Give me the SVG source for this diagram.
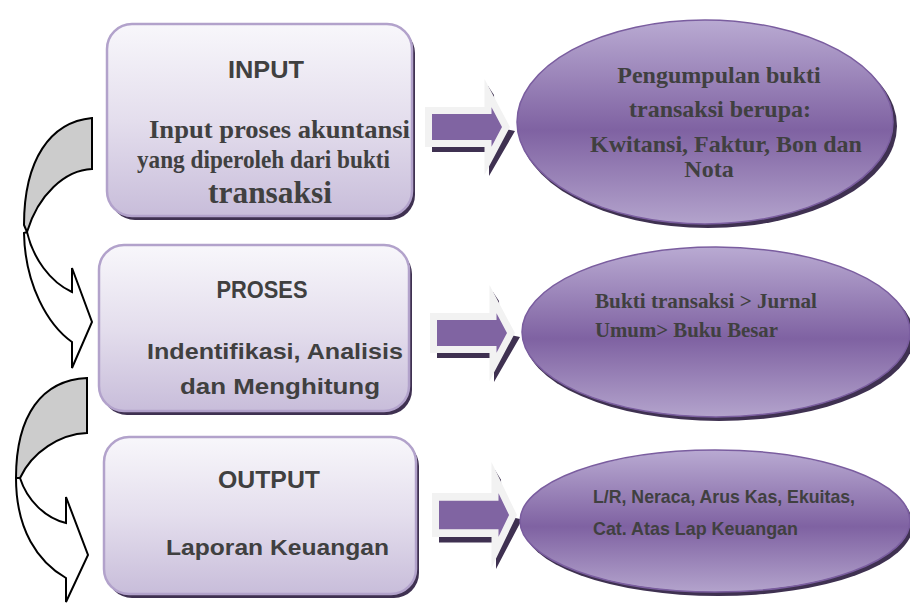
<svg xmlns="http://www.w3.org/2000/svg" width="910" height="604" viewBox="0 0 910 604">
<defs>
<linearGradient id="boxGrad" x1="0" y1="0" x2="0" y2="1">
<stop offset="0" stop-color="#f8f7fb"/>
<stop offset="0.5" stop-color="#e4deed"/>
<stop offset="1" stop-color="#c8bdda"/>
</linearGradient>
<linearGradient id="ellGrad" x1="0" y1="0" x2="0" y2="1">
<stop offset="0" stop-color="#b9aad2"/>
<stop offset="0.54" stop-color="#7f62a2"/>
<stop offset="1" stop-color="#b3a3cc"/>
</linearGradient>
<g id="blockArrow">
<polygon class="ashadow" points="7,12 63,12 63,-41 69,-32 70,0 90,4 64,49 64,25 7,25"/>
<polygon class="abody" points="3.5,-16.5 63,-16.5 63,-34 81,0 63,34 63,16.5 3.5,16.5"/>
</g>
</defs>
<style>
.box{fill:url(#boxGrad);stroke:#b2a2cb;stroke-width:2.5}
.boxsh{fill:#3f3151}
.ell{fill:url(#ellGrad);stroke:#7a5d9f;stroke-width:1.5}
.ellsh{fill:#3f3151}
.ashadow{fill:#3f3151}
.abody{fill:#8064a2;stroke:#f2f2f2;stroke-width:7;stroke-linejoin:miter;stroke-miterlimit:10}
.cb{fill:#cccccc;stroke:#000;stroke-width:2;stroke-linejoin:miter}
.cw{fill:#ffffff;stroke:#000;stroke-width:2;stroke-linejoin:miter}
.sans{font-family:"Liberation Sans",Arial,sans-serif;font-weight:bold;fill:#404040}
.serif{font-family:"Liberation Serif","Times New Roman",serif;font-weight:bold;fill:#404040}
</style>
<rect width="910" height="604" fill="#ffffff"/>

<g id="connectors">
<g id="curved-arrow-1">
<path class="cb" d="M92,118 C50,122 24,160 24,225 L27,232 C38,195 65,170 92,169 Z"/>
<path class="cw" d="M27,232 C33,258 50,282 72,292 L72,268 L92,322 L72,368 L72,342 C48,325 25,285 24,233 Z"/>
</g>
<g id="curved-arrow-2">
<path class="cb" d="M87,378 C42,380 16,415 16,478 L20,478 C32,452 60,434 87,433 Z"/>
<path class="cw" d="M20,478 C27,500 45,518 66,523 L66,497 L88,555 L66,602 L66,578 C38,562 16,530 16,478 Z"/>
</g>
<g id="block-arrow-1"><use href="#blockArrow" transform="translate(425,127)"/></g>
<g id="block-arrow-2"><use href="#blockArrow" transform="translate(430,333)"/></g>
<g id="block-arrow-3"><use href="#blockArrow" transform="translate(432,515) scale(1,1.1)"/></g>
</g>

<g id="node-input">
<rect class="boxsh" x="110" y="28" width="305" height="192" rx="25"/>
<rect class="box" x="107" y="24" width="305" height="192" rx="25"/>
<text class="sans" x="266" y="78" font-size="24" text-anchor="middle" textLength="76" lengthAdjust="spacingAndGlyphs">INPUT</text>
<text class="serif" x="149" y="138" font-size="26" textLength="261" lengthAdjust="spacingAndGlyphs">Input proses akuntansi</text>
<text class="serif" x="137" y="168" font-size="25" textLength="253" lengthAdjust="spacingAndGlyphs">yang diperoleh dari bukti</text>
<text class="serif" x="208" y="203" font-size="31" textLength="124" lengthAdjust="spacingAndGlyphs">transaksi</text>
</g>

<g id="node-proses">
<rect class="boxsh" x="102" y="249" width="310" height="166" rx="25"/>
<rect class="box" x="99" y="245" width="310" height="166" rx="25"/>
<text class="sans" x="262" y="298" font-size="23" text-anchor="middle" textLength="91" lengthAdjust="spacingAndGlyphs">PROSES</text>
<text class="sans" x="147" y="359" font-size="22" textLength="256" lengthAdjust="spacingAndGlyphs">Indentifikasi, Analisis</text>
<text class="sans" x="180" y="394" font-size="22" textLength="200" lengthAdjust="spacingAndGlyphs">dan Menghitung</text>
</g>

<g id="node-output">
<rect class="boxsh" x="107" y="441" width="312" height="157" rx="25"/>
<rect class="box" x="104" y="437" width="312" height="157" rx="25"/>
<text class="sans" x="269" y="488" font-size="24" text-anchor="middle" textLength="102" lengthAdjust="spacingAndGlyphs">OUTPUT</text>
<text class="sans" x="166" y="555" font-size="22" textLength="223" lengthAdjust="spacingAndGlyphs">Laporan Keuangan</text>
</g>

<g id="node-bukti">
<ellipse class="ellsh" cx="708" cy="126" rx="189" ry="102"/>
<ellipse class="ell" cx="705" cy="122" rx="188" ry="102"/>
<text class="serif" x="719" y="83" font-size="24" text-anchor="middle">Pengumpulan bukti</text>
<text class="serif" x="720" y="117" font-size="24" text-anchor="middle">transaksi berupa:</text>
<text class="serif" x="726" y="152" font-size="24" text-anchor="middle">Kwitansi, Faktur, Bon dan</text>
<text class="serif" x="709" y="177" font-size="24" text-anchor="middle">Nota</text>
</g>

<g id="node-jurnal">
<ellipse class="ellsh" cx="719" cy="336" rx="195" ry="85"/>
<ellipse class="ell" cx="716" cy="332" rx="194" ry="85"/>
<text class="serif" x="595" y="308" font-size="21" textLength="222" lengthAdjust="spacingAndGlyphs">Bukti transaksi &gt; Jurnal</text>
<text class="serif" x="595" y="337" font-size="21" textLength="183" lengthAdjust="spacingAndGlyphs">Umum&gt; Buku Besar</text>
</g>

<g id="node-laporan">
<ellipse class="ellsh" cx="718" cy="525" rx="195" ry="71"/>
<ellipse class="ell" cx="715" cy="521" rx="195" ry="71"/>
<text class="sans" x="593" y="503" font-size="19" textLength="262" lengthAdjust="spacingAndGlyphs">L/R, Neraca, Arus Kas, Ekuitas,</text>
<text class="sans" x="593" y="535" font-size="19" textLength="205" lengthAdjust="spacingAndGlyphs">Cat. Atas Lap Keuangan</text>
</g>
</svg>
